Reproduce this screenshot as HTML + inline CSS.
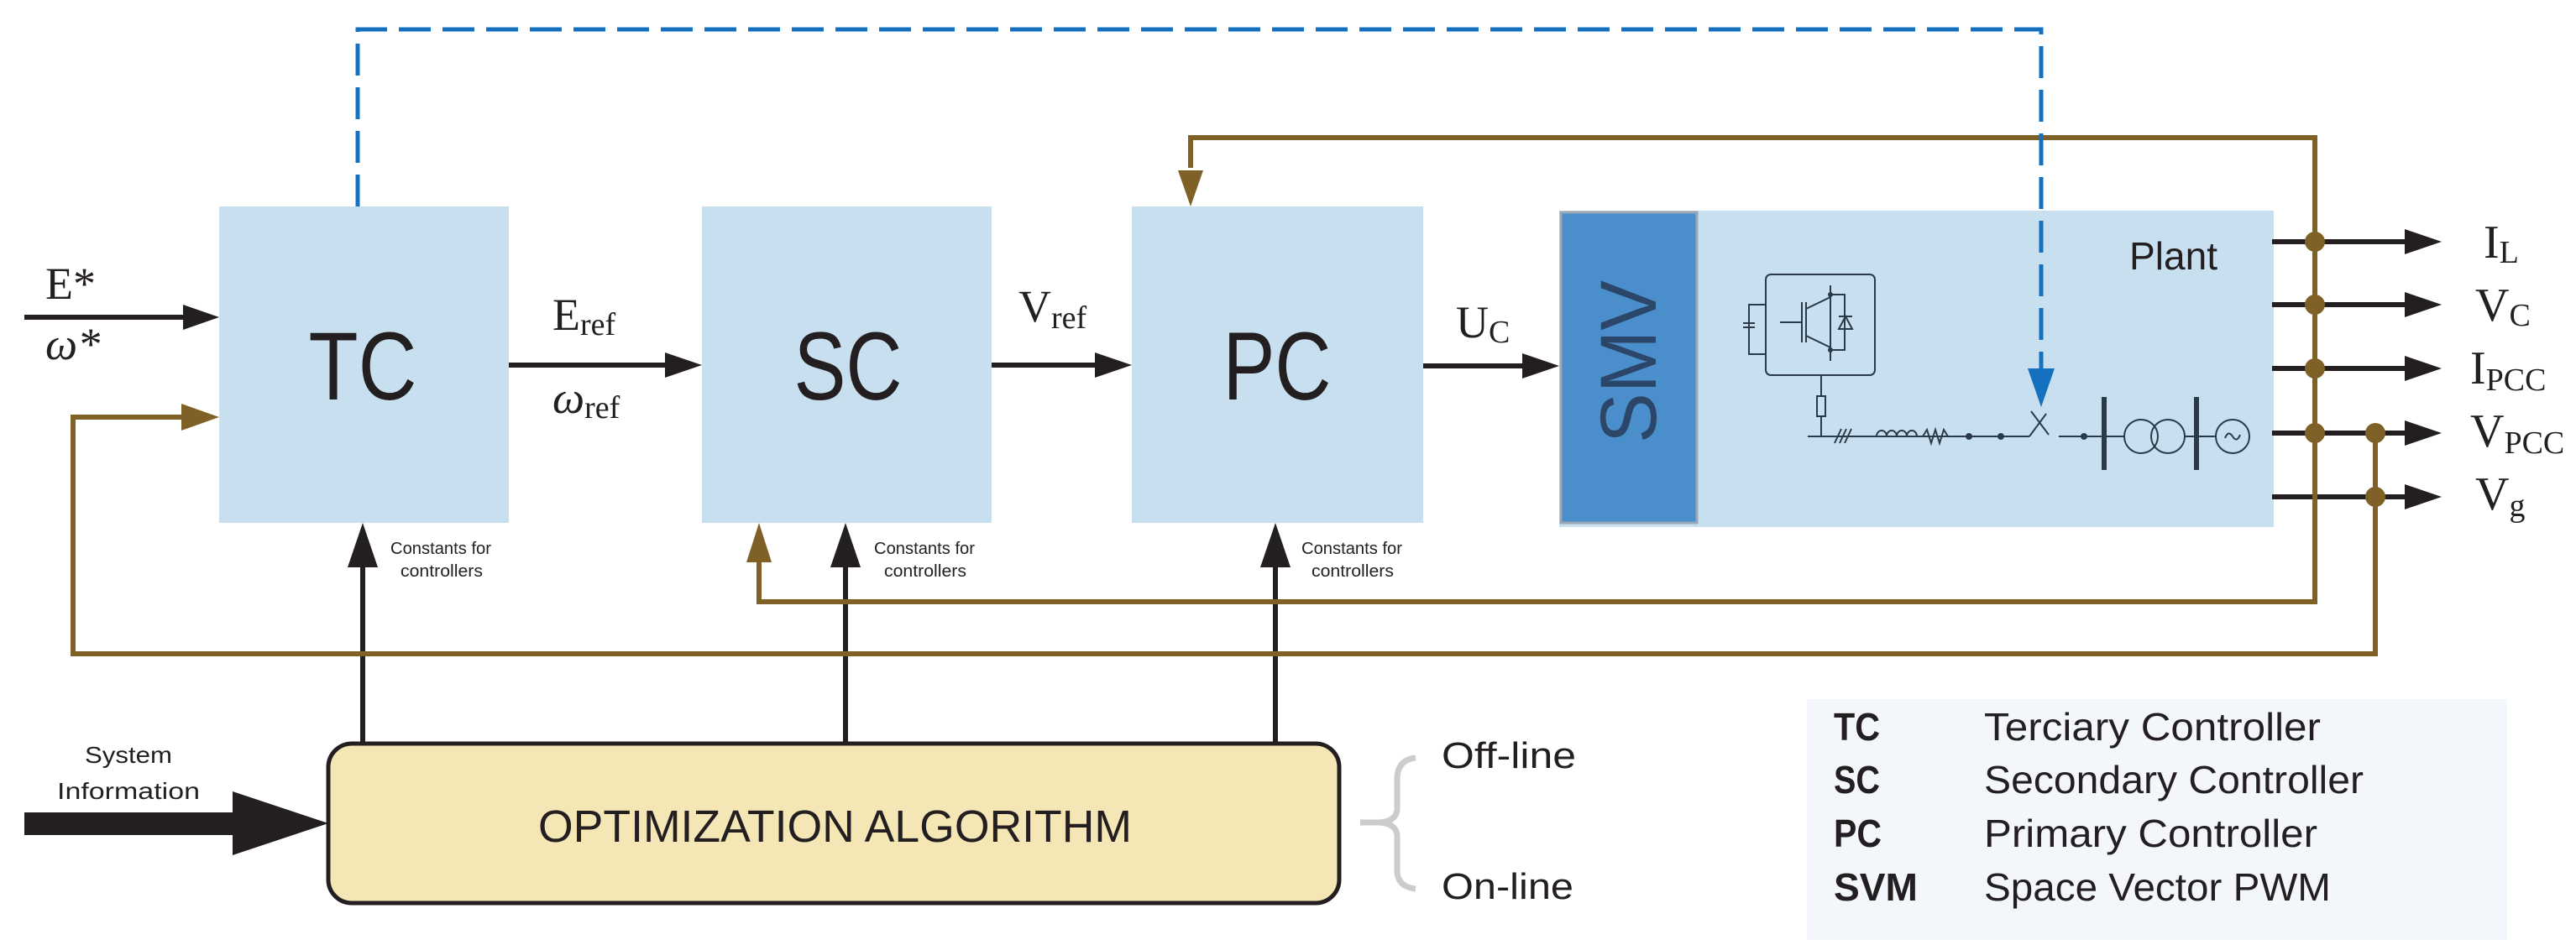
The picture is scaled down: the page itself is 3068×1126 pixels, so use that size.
<!DOCTYPE html>
<html><head><meta charset="utf-8"><style>html,body{margin:0;padding:0;background:#fff}svg{display:block}</style></head>
<body>
<svg width="3068" height="1126" viewBox="0 0 3068 1126" xmlns="http://www.w3.org/2000/svg">
<defs>
<marker id="ak" markerWidth="10" markerHeight="10" refX="9" refY="5" orient="auto" markerUnits="userSpaceOnUse" viewBox="0 0 10 10"><path d="M0,0 L10,5 L0,10Z" fill="#231f20"/></marker>
</defs>
<g fill="#c8dfef">
<rect x="261" y="246" width="345" height="377"/>
<rect x="836" y="246" width="345" height="377"/>
<rect x="1348" y="246" width="347" height="377"/>
<rect x="1857" y="251" width="851" height="377"/>
</g>
<rect x="1859" y="253" width="162" height="370" fill="#4a8fcb" stroke="#9aa7b5" stroke-width="3"/>

<g font-family="Liberation Sans, sans-serif" fill="#231f20">
<text x="432" y="476" font-size="115" text-anchor="middle" textLength="129" lengthAdjust="spacingAndGlyphs">TC</text>
<text x="1010" y="476" font-size="115" text-anchor="middle" textLength="129" lengthAdjust="spacingAndGlyphs">SC</text>
<text x="1521" y="476" font-size="115" text-anchor="middle" textLength="129" lengthAdjust="spacingAndGlyphs">PC</text>
<text x="0" y="0" font-size="95" fill="#2b4668" text-anchor="middle" transform="translate(1972,431) rotate(-90)" textLength="194" lengthAdjust="spacingAndGlyphs">SMV</text>
<text x="2536" y="321" font-size="46" textLength="105" lengthAdjust="spacingAndGlyphs">Plant</text>
<text x="465" y="660" font-size="20" textLength="120" lengthAdjust="spacingAndGlyphs">Constants for</text>
<text x="477" y="687" font-size="20" textLength="98" lengthAdjust="spacingAndGlyphs">controllers</text>
<text x="1041" y="660" font-size="20" textLength="120" lengthAdjust="spacingAndGlyphs">Constants for</text>
<text x="1053" y="687" font-size="20" textLength="98" lengthAdjust="spacingAndGlyphs">controllers</text>
<text x="1550" y="660" font-size="20" textLength="120" lengthAdjust="spacingAndGlyphs">Constants for</text>
<text x="1562" y="687" font-size="20" textLength="98" lengthAdjust="spacingAndGlyphs">controllers</text>
<text x="153" y="909" font-size="28" text-anchor="middle" textLength="104" lengthAdjust="spacingAndGlyphs">System</text>
<text x="153" y="952" font-size="28" text-anchor="middle" textLength="170" lengthAdjust="spacingAndGlyphs">Information</text>
<text x="1717" y="915" font-size="44" textLength="160" lengthAdjust="spacingAndGlyphs">Off-line</text>
<text x="1717" y="1071" font-size="44" textLength="157" lengthAdjust="spacingAndGlyphs">On-line</text>
</g>

<!-- optimization box -->
<rect x="391" y="886" width="1204" height="190" rx="28" fill="#f5e7b5" stroke="#231f20" stroke-width="5"/>
<text x="641" y="1003" font-family="Liberation Sans, sans-serif" font-size="54" fill="#231f20" textLength="707" lengthAdjust="spacingAndGlyphs">OPTIMIZATION ALGORITHM</text>
<!-- system information arrow -->
<path d="M29,968 H277 V943 L391,981 L277,1019 V995 H29Z" fill="#231f20"/>
<!-- brace -->
<path d="M1686,903 Q1666,905 1664,925 V965 Q1662,980 1640,980 H1620 M1640,980 Q1662,980 1664,995 V1040 Q1666,1057 1686,1059" fill="none" stroke="#cccccc" stroke-width="7"/>

<!-- legend -->
<rect x="2152" y="833" width="834" height="287" fill="#f3f6fb"/>
<g font-family="Liberation Sans, sans-serif" font-size="46" fill="#231f20">
<text x="2184" y="882" font-weight="bold" textLength="55" lengthAdjust="spacingAndGlyphs">TC</text>
<text x="2184" y="945" font-weight="bold" textLength="55" lengthAdjust="spacingAndGlyphs">SC</text>
<text x="2184" y="1009" font-weight="bold" textLength="57" lengthAdjust="spacingAndGlyphs">PC</text>
<text x="2184" y="1073" font-weight="bold" textLength="100" lengthAdjust="spacingAndGlyphs">SVM</text>
<text x="2363" y="882" textLength="401" lengthAdjust="spacingAndGlyphs">Terciary Controller</text>
<text x="2363" y="945" textLength="452" lengthAdjust="spacingAndGlyphs">Secondary Controller</text>
<text x="2363" y="1009" textLength="397" lengthAdjust="spacingAndGlyphs">Primary Controller</text>
<text x="2363" y="1073" textLength="413" lengthAdjust="spacingAndGlyphs">Space Vector PWM</text>
</g>

<!-- math labels -->
<g font-family="Liberation Serif, serif" fill="#231f20">
<text x="54" y="356" font-size="54">E*</text>
<text x="54" y="428" font-size="54" font-style="italic">ω*</text>
<text x="658" y="393" font-size="54">E<tspan font-size="38" dy="6">ref</tspan></text>
<text x="658" y="492" font-size="54" font-style="italic">ω<tspan font-size="38" dy="6" font-style="normal">ref</tspan></text>
<text x="1213" y="383" font-size="54">V<tspan font-size="38" dy="8">ref</tspan></text>
<text x="1734" y="402" font-size="54">U<tspan font-size="38" dy="6">C</tspan></text>
<text x="2958" y="307" font-size="56">I<tspan font-size="38" dy="6">L</tspan></text>
<text x="2948" y="382" font-size="56">V<tspan font-size="38" dy="6">C</tspan></text>
<text x="2942" y="457" font-size="56">I<tspan font-size="38" dy="8">PCC</tspan></text>
<text x="2942" y="532" font-size="56">V<tspan font-size="38" dy="8">PCC</tspan></text>
<text x="2948" y="607" font-size="56">V<tspan font-size="38" dy="8">g</tspan></text>
</g>

<!-- black arrows -->
<g stroke="#231f20" stroke-width="6" fill="none">
<line x1="29" y1="378" x2="226" y2="378"/>
<line x1="606" y1="435" x2="800" y2="435"/>
<line x1="1181" y1="435" x2="1312" y2="435"/>
<line x1="1695" y1="436" x2="1821" y2="436"/>
<line x1="432" y1="886" x2="432" y2="670"/>
<line x1="1007" y1="886" x2="1007" y2="670"/>
<line x1="1519" y1="886" x2="1519" y2="670"/>
<line x1="2706" y1="288" x2="2870" y2="288"/>
<line x1="2706" y1="363" x2="2870" y2="363"/>
<line x1="2706" y1="439" x2="2870" y2="439"/>
<line x1="2706" y1="516" x2="2870" y2="516"/>
<line x1="2706" y1="592" x2="2870" y2="592"/>
</g>
<g fill="#231f20">
<path d="M261,378 L218,363 V393Z"/>
<path d="M836,435 L792,420 V450Z"/>
<path d="M1348,435 L1304,420 V450Z"/>
<path d="M1857,436 L1813,421 V451Z"/>
<path d="M432,623 L414,676 H450Z"/>
<path d="M1007,623 L989,676 H1025Z"/>
<path d="M1519,623 L1501,676 H1537Z"/>
<path d="M2908,288 L2864,273 V303Z"/>
<path d="M2908,363 L2864,348 V378Z"/>
<path d="M2908,439 L2864,424 V454Z"/>
<path d="M2908,516 L2864,501 V531Z"/>
<path d="M2908,592 L2864,577 V607Z"/>
</g>

<!-- brown feedback -->
<g stroke="#7f6128" stroke-width="6" fill="none">
<path d="M1418,200 V164 H2757 V717 H904 V670"/>
<path d="M2829,516 V779 H87 V497 H220"/>
</g>
<g fill="#7f6128">
<path d="M1418,246 L1403,203 H1433Z"/>
<path d="M904,623 L889,670 H919Z"/>
<path d="M261,497 L216,481 V513Z"/>
<circle cx="2757" cy="288" r="12"/><circle cx="2757" cy="363" r="12"/>
<circle cx="2757" cy="439" r="12"/><circle cx="2757" cy="516" r="12"/>
<circle cx="2829" cy="516" r="12"/><circle cx="2829" cy="592" r="12"/>
</g>

<!-- blue dashed -->
<path d="M426,246 V35 H2431 V440" stroke="#1570c0" stroke-width="5" fill="none" stroke-dasharray="38,14"/>
<path d="M2431,485 L2415,439 H2447Z" fill="#1570c0"/>

<!-- circuit -->
<g stroke="#2b3a4a" stroke-width="2" fill="none">
<rect x="2103" y="327" width="130" height="120" rx="6"/>
<line x1="2120" y1="384" x2="2146" y2="384"/>
<line x1="2146" y1="360" x2="2146" y2="408"/><line x1="2151" y1="360" x2="2151" y2="408"/>
<line x1="2151" y1="368" x2="2180" y2="354"/><line x1="2151" y1="400" x2="2180" y2="414"/>
<line x1="2180" y1="340" x2="2180" y2="430"/>
<path d="M2180,351 H2197 V417 H2180"/>
<path d="M2190,392 H2206 L2198,377Z M2190,377 H2206"/>
<path d="M2103,363 H2083 V422 H2103 M2076,385 H2090 M2076,390 H2090"/>
<line x1="2169" y1="447" x2="2169" y2="520"/>
<rect x="2164" y="472" width="10" height="24" fill="#c8dfef"/>
<line x1="2153" y1="520" x2="2417" y2="520"/>
<path d="M2185,528 L2193,511 M2191,528 L2199,511 M2197,528 L2205,511"/>
<path d="M2235,520 a6,7 0 0 1 12,0 a6,7 0 0 1 12,0 a6,7 0 0 1 12,0 a6,7 0 0 1 12,0"/>
<path d="M2290,520 L2295,512 L2300,528 L2305,512 L2310,528 L2315,512 L2320,520"/>
<path d="M2417,520 L2437,493 M2419,490 L2440,518"/>
<line x1="2452" y1="520" x2="2506" y2="520"/>
<line x1="2506" y1="520" x2="2530" y2="520"/>
<circle cx="2550" cy="520" r="20"/><circle cx="2582" cy="520" r="20"/>
<line x1="2602" y1="520" x2="2639" y2="520"/>
<circle cx="2659" cy="520" r="20"/>
<path d="M2650,522 q4,-10 9,-2 q5,8 9,-2"/>
</g>
<g fill="#2b3a4a">
<circle cx="2345" cy="520" r="4"/><circle cx="2383" cy="520" r="4"/><circle cx="2482" cy="520" r="4"/>
<circle cx="2180" cy="351" r="3"/><circle cx="2180" cy="417" r="3"/>
<rect x="2503" y="473" width="6" height="87"/><rect x="2613" y="473" width="6" height="87"/>
</g>
</svg>
</body></html>
